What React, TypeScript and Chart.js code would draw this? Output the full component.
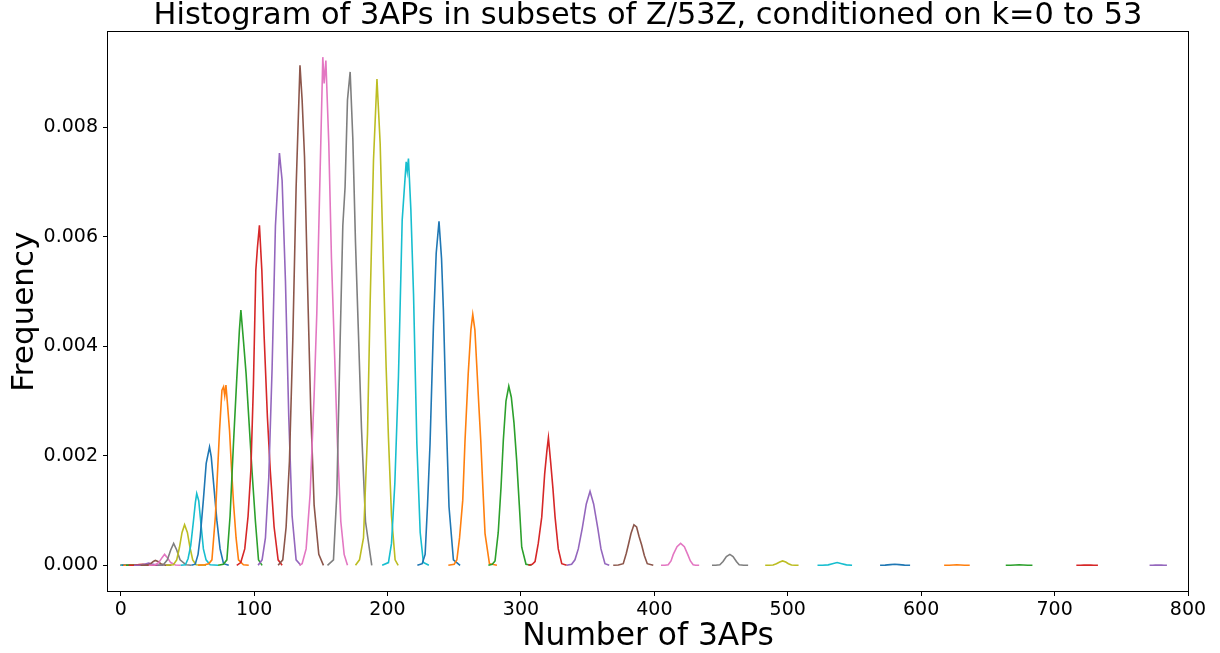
import React, { useEffect, useRef } from "react";
import { Chart, registerables } from "chart.js";

Chart.register(...registerables);

const titleText = "Histogram of 3APs in subsets of Z/53Z, conditioned on k=0 to 53";
const xAxisLabel = "Number of 3APs";
const yAxisLabel = "Frequency";
const xTickValues = [0, 100, 200, 300, 400, 500, 600, 700, 800];
const yTickValues = [0, 0.002, 0.004, 0.006, 0.008];
const palette = ["#1f77b4", "#ff7f0e", "#2ca02c", "#d62728", "#9467bd", "#8c564b", "#e377c2", "#7f7f7f", "#bcbd22", "#17becf"];

// k = subset size; bins = number of 3APs, freq = frequency
const binsK00 = [0];
const freqK00 = [0];
const binsK01 = [0];
const freqK01 = [0];
const binsK02 = [0];
const freqK02 = [0];
const binsK03 = [0, 1];
const freqK03 = [0, 0];
const binsK04 = [0, 1, 2];
const freqK04 = [0, 0.000001, 0];
const binsK05 = [0, 1, 2, 3];
const freqK05 = [0, 0.000001, 0.000001, 0];
const binsK06 = [0, 1, 2, 3, 4];
const freqK06 = [0, 0.000001, 0.000002, 0.000001, 0];
const binsK07 = [0, 1, 2, 3, 4, 5, 6];
const freqK07 = [0, 0.000001, 0.000002, 0.000002, 0.000001, 0, 0];
const binsK08 = [0, 1, 2, 3, 4, 6, 8];
const freqK08 = [0, 0.000001, 0.000002, 0.000003, 0.000002, 0.000001, 0];
const binsK09 = [0, 2, 4, 5, 6, 8, 11];
const freqK09 = [0, 0.000001, 0.000003, 0.000004, 0.000003, 0.000001, 0];
const binsK10 = [1, 4, 6, 7, 8, 10, 14];
const freqK10 = [0, 0.000002, 0.000004, 0.000005, 0.000004, 0.000002, 0];
const binsK11 = [2, 6, 8, 10, 12, 14, 18];
const freqK11 = [0, 0.000002, 0.000005, 0.000007, 0.000005, 0.000002, 0];
const binsK12 = [4, 9, 11, 13, 15, 17, 22];
const freqK12 = [0, 0.000003, 0.000007, 0.00001, 0.000007, 0.000003, 0];
const binsK13 = [6, 11, 14, 16.5, 19, 22, 28];
const freqK13 = [0, 0.000004, 0.000012, 0.00002, 0.000012, 0.000004, 0];
const binsK14 = [10, 15, 18.5, 21, 23.5, 27, 32];
const freqK14 = [0, 0.000006, 0.000025, 0.00004, 0.000025, 0.000006, 0];
const binsK15 = [15, 19.5, 22.5, 24.5, 26, 28, 30, 33.5, 38];
const freqK15 = [0, 0.000003, 0.00003, 0.00007, 0.00009, 0.00007, 0.00003, 0.000003, 0];
const binsK16 = [21, 25.5, 28.5, 31, 32.9, 35, 37.5, 41, 45];
const freqK16 = [0, 0.000005, 0.00005, 0.00014, 0.0002, 0.00014, 0.00005, 0.000005, 0];
const binsK17 = [28, 32, 35, 37.5, 39.7, 42, 44.5, 49, 53];
const freqK17 = [0, 0.00001, 0.0001, 0.00028, 0.0004, 0.00028, 0.0001, 0.00001, 0];
const binsK18 = [34, 39.5, 42, 44, 46, 47.9, 50, 52, 54, 56.5, 64];
const freqK18 = [0, 0.00001, 0.0001, 0.00032, 0.0006, 0.00074, 0.0006, 0.00032, 0.0001, 0.00001, 0];
const binsK19 = [45, 48.5, 50.5, 52.5, 54.5, 56, 57, 58.5, 60, 62, 64, 67, 73];
const freqK19 = [0, 0.00001, 0.00012, 0.00036, 0.0008, 0.00115, 0.00131, 0.00118, 0.0008, 0.0003, 0.0001, 0.00001, 0];
const binsK20 = [53, 55.9, 58, 59.6, 62, 64.1, 66.6, 67.9, 70, 72.1, 74.5, 77.1, 81];
const freqK20 = [0, 0.00002, 0.0002, 0.00052, 0.0012, 0.00186, 0.00216, 0.00198, 0.0014, 0.00082, 0.0003, 0.00003, 0];
const binsK21 = [58, 63, 66, 68.4, 71, 74.1, 75.9, 77.1, 78, 78.9, 80.2, 81.6, 83, 84.6, 86.5, 88.3, 92, 96];
const freqK21 = [0, 0.00001, 0.00003, 0.0001, 0.0009, 0.00246, 0.0032, 0.00326, 0.0031, 0.00329, 0.0029, 0.00246, 0.0018, 0.00113, 0.0005, 0.0001, 0.00001, 0];
const binsK22 = [73, 77, 79.6, 82, 84.5, 87, 89, 90.1, 92.1, 94, 96, 98.5, 101, 103.3, 106];
const freqK22 = [0, 0.00002, 0.0001, 0.0009, 0.0022, 0.0034, 0.0043, 0.00466, 0.00408, 0.0035, 0.0027, 0.0017, 0.0008, 0.0001, 0];
const binsK23 = [87, 90, 93, 95.5, 97.6, 99.5, 101.3, 102.5, 104, 105.8, 107.5, 110, 112.1, 115, 118, 121];
const freqK23 = [0, 0.00005, 0.0003, 0.0009, 0.00174, 0.0033, 0.00539, 0.0058, 0.00621, 0.00539, 0.0042, 0.0027, 0.00174, 0.0007, 0.0001, 0];
const binsK24 = [103, 106, 108.5, 111, 113.5, 116, 119, 121, 123.5, 126, 128.5, 131.5, 135];
const freqK24 = [0, 0.0001, 0.0005, 0.0016, 0.0036, 0.0062, 0.00753, 0.00703, 0.0052, 0.0027, 0.0009, 0.0001, 0];
const binsK25 = [118, 121.5, 124, 126.5, 129, 131.5, 134.4, 136, 137.8, 140, 142.5, 145, 148.5, 152];
const freqK25 = [0, 0.0001, 0.0007, 0.0019, 0.0041, 0.0069, 0.00913, 0.0085, 0.00746, 0.0052, 0.0028, 0.0011, 0.0002, 0];
const binsK26 = [134, 136, 139, 142, 145, 147, 149.5, 151.5, 152.5, 153.8, 156, 158, 160, 162.5, 165, 167.5, 170];
const freqK26 = [0, 0.00003, 0.0003, 0.0013, 0.0031, 0.0046, 0.0072, 0.00928, 0.0088, 0.00922, 0.0077, 0.0056, 0.0041, 0.0022, 0.0008, 0.0002, 0];
const binsK27 = [155, 159.5, 162, 164.5, 166.5, 168.2, 170, 172, 174, 176, 178, 180.5, 183.5, 188.2];
const freqK27 = [0, 0.0001, 0.0013, 0.0041, 0.0062, 0.00691, 0.0085, 0.00901, 0.0078, 0.0059, 0.0044, 0.0025, 0.0008, 0];
const binsK28 = [176, 179, 182, 185, 187, 189.5, 192.1, 194.5, 197, 199, 200.7, 203, 205.7, 208];
const freqK28 = [0, 0.0001, 0.0005, 0.0024, 0.0048, 0.0074, 0.00888, 0.0077, 0.0054, 0.0036, 0.00234, 0.0009, 0.0001, 0];
const binsK29 = [196, 200.7, 203, 205.5, 208.2, 211, 214, 214.8, 215.7, 217.5, 219.5, 222, 224.5, 226.9, 231];
const freqK29 = [0, 0.00005, 0.0004, 0.0015, 0.00344, 0.0063, 0.00737, 0.0072, 0.00743, 0.0065, 0.00496, 0.00222, 0.0006, 0.00005, 0];
const binsK30 = [222.4, 226, 228.2, 230, 231.9, 234.4, 236.5, 238.6, 240.5, 241.9, 244, 246.1, 249.4, 254.4];
const freqK30 = [0, 0.00003, 0.0002, 0.0011, 0.00223, 0.00435, 0.0057, 0.00628, 0.0056, 0.00466, 0.0027, 0.00107, 0.0001, 0];
const binsK31 = [245.6, 250, 252, 254, 256.4, 258.1, 260.5, 262.5, 263.9, 265.5, 266.9, 268.5, 269.9, 271.5, 273.1, 276.4, 282];
const freqK31 = [0, 0.00002, 0.0001, 0.0005, 0.00119, 0.00228, 0.0035, 0.0043, 0.00458, 0.0043, 0.00365, 0.0029, 0.00228, 0.0014, 0.00058, 0.00003, 0];
const binsK32 = [275.6, 278.5, 280.6, 283, 285.1, 286.8, 288.8, 290.9, 292.8, 294.8, 296.8, 298.8, 300.6, 303.8, 308];
const freqK32 = [0, 0.00002, 0.00008, 0.0006, 0.00143, 0.00228, 0.003, 0.00327, 0.00307, 0.0026, 0.00192, 0.0011, 0.00033, 0.00002, 0];
const binsK33 = [305.6, 308.5, 310.6, 313, 315.6, 317.8, 319.5, 320.6, 322.3, 324, 325.6, 328, 330.6, 334.3];
const freqK33 = [0, 0.00002, 0.00007, 0.0004, 0.00088, 0.00167, 0.0021, 0.00233, 0.00188, 0.0014, 0.00088, 0.0003, 0.00003, 0];
const binsK34 = [334.3, 338, 340.5, 343, 346, 349, 351.8, 354.5, 357.6, 360, 363, 366.2];
const freqK34 = [0, 0.00002, 0.0001, 0.0003, 0.00068, 0.00112, 0.00135, 0.00112, 0.00068, 0.0003, 0.00003, 0];
const binsK35 = [369.2, 373, 376.7, 379, 380.5, 382.5, 384.7, 386.7, 388.5, 390.5, 392.5, 394.7, 399.2];
const freqK35 = [0, 0.000005, 0.00003, 0.00022, 0.00037, 0.00058, 0.00074, 0.0007, 0.00053, 0.00037, 0.00018, 0.00003, 0];
const binsK36 = [405, 408, 410.4, 412.5, 414.2, 417, 419.7, 422.5, 425, 427, 429.1, 431, 433.6];
const freqK36 = [0, 0.000002, 0.00001, 0.00008, 0.0002, 0.00034, 0.0004, 0.00034, 0.0002, 0.00008, 0.00001, 0.000002, 0];
const binsK37 = [443.2, 446, 449.1, 451.5, 454, 456.6, 459, 461.5, 463.6, 467, 470.3];
const freqK37 = [0, 0.000002, 0.00001, 0.00007, 0.00016, 0.0002, 0.00016, 0.00007, 0.00001, 0.000002, 0];
const binsK38 = [483.1, 486, 489, 491.5, 494, 496.1, 498.5, 500.5, 502.8, 505.5, 508.1];
const freqK38 = [0, 0.000001, 0.000005, 0.00003, 0.00006, 0.00008, 0.00006, 0.00003, 0.000005, 0.000001, 0];
const binsK39 = [522.3, 526, 530.3, 533.5, 537, 540.5, 544, 548.2];
const freqK39 = [0, 0.000001, 0.000008, 0.00003, 0.00005, 0.00003, 0.000008, 0];
const binsK40 = [569.2, 573, 577, 580.2, 583.5, 587.5, 591.7];
const freqK40 = [0, 0.000003, 0.000012, 0.00002, 0.000012, 0.000003, 0];
const binsK41 = [617.2, 621, 624, 626.8, 629.5, 632.5, 636.4];
const freqK41 = [0, 0.000002, 0.000007, 0.00001, 0.000007, 0.000002, 0];
const binsK42 = [663.4, 667, 670.5, 673.4, 676.5, 680, 683.4];
const freqK42 = [0, 0.000001, 0.000005, 0.000008, 0.000005, 0.000001, 0];
const binsK43 = [716.3, 719.5, 722, 724.4, 727, 729.5, 732.5];
const freqK43 = [0, 0.000001, 0.000004, 0.000006, 0.000004, 0.000001, 0];
const binsK44 = [771.2, 773.5, 775.5, 777.7, 780, 782, 784.2];
const freqK44 = [0, 0.000001, 0.000003, 0.000004, 0.000003, 0.000001, 0];

const curveBins = [binsK00, binsK01, binsK02, binsK03, binsK04, binsK05, binsK06, binsK07, binsK08, binsK09,
  binsK10, binsK11, binsK12, binsK13, binsK14, binsK15, binsK16, binsK17, binsK18, binsK19,
  binsK20, binsK21, binsK22, binsK23, binsK24, binsK25, binsK26, binsK27, binsK28, binsK29,
  binsK30, binsK31, binsK32, binsK33, binsK34, binsK35, binsK36, binsK37, binsK38, binsK39,
  binsK40, binsK41, binsK42, binsK43, binsK44];
const curveFreqs = [freqK00, freqK01, freqK02, freqK03, freqK04, freqK05, freqK06, freqK07, freqK08, freqK09,
  freqK10, freqK11, freqK12, freqK13, freqK14, freqK15, freqK16, freqK17, freqK18, freqK19,
  freqK20, freqK21, freqK22, freqK23, freqK24, freqK25, freqK26, freqK27, freqK28, freqK29,
  freqK30, freqK31, freqK32, freqK33, freqK34, freqK35, freqK36, freqK37, freqK38, freqK39,
  freqK40, freqK41, freqK42, freqK43, freqK44];

const FONT = "'DejaVu Sans', 'Liberation Sans', sans-serif";

const framePlugin = {
  id: "frame",
  afterDraw(chart: any) {
    const { ctx, chartArea } = chart;
    const l = Math.round(chartArea.left) - 0.5;
    const t = Math.round(chartArea.top) - 0.5;
    const r = Math.round(chartArea.right) + 0.5;
    const b = Math.round(chartArea.bottom) + 0.5;
    ctx.save();
    ctx.strokeStyle = "#000";
    ctx.lineWidth = 1;
    ctx.strokeRect(l, t, r - l, b - t);
    ctx.restore();
  },
};

export default function App() {
  const ref = useRef<HTMLCanvasElement>(null);
  useEffect(() => {
    document.body.style.margin = "0";
    Chart.defaults.font.family = FONT;
    Chart.defaults.color = "#000";
    const datasets = curveBins.map((bins, k) => ({
      label: "k=" + k,
      data: bins.map((x, i) => ({ x, y: curveFreqs[k][i] })),
      borderColor: palette[k % 10],
      backgroundColor: palette[k % 10],
      borderWidth: 1.6,
      pointRadius: 0,
      pointHoverRadius: 0,
      tension: 0,
      fill: false,
      order: -k,
    }));
    const chart = new Chart(ref.current as HTMLCanvasElement, {
      type: "line",
      data: { datasets },
      plugins: [framePlugin],
      options: {
        animation: false,
        responsive: false,
        devicePixelRatio: 1,
        parsing: false,
        normalized: true,
        layout: { padding: { left: 0, right: 32, top: 0, bottom: 0 } },
        plugins: {
          legend: { display: false },
          tooltip: { enabled: false },
          title: {
            display: true,
            text: titleText,
            fullSize: false,
            color: "#000",
            font: { family: FONT, size: 30.4, weight: "normal", lineHeight: 1 },
            padding: { top: 1, bottom: 1 },
          },
        },
        scales: {
          x: {
            type: "linear",
            min: -9.5,
            max: 800,
            afterFit: (s: any) => { s.height = 62; },
            afterBuildTicks: (s: any) => { s.ticks = xTickValues.map((v) => ({ value: v })); },
            ticks: {
              autoSkip: false,
              maxRotation: 0,
              padding: 3,
              color: "#000",
              font: { family: FONT, size: 19 },
              callback: (v: any) => String(v),
            },
            grid: { display: true, drawOnChartArea: false, drawTicks: true, tickLength: 5, tickWidth: 1, tickColor: "#000" },
            border: { display: false },
            title: {
              display: true,
              text: xAxisLabel,
              color: "#000",
              font: { family: FONT, size: 31.3, lineHeight: 1 },
              padding: { top: 0, bottom: 0 },
            },
          },
          y: {
            type: "linear",
            min: -0.000469,
            max: 0.009732,
            afterFit: (s: any) => { s.width = 108; },
            afterBuildTicks: (s: any) => { s.ticks = yTickValues.map((v) => ({ value: v })); },
            ticks: {
              autoSkip: false,
              padding: 5,
              color: "#000",
              font: { family: FONT, size: 19 },
              callback: (v: any) => Number(v).toFixed(3),
            },
            grid: { display: true, drawOnChartArea: false, drawTicks: true, tickLength: 5, tickWidth: 1, tickColor: "#000" },
            border: { display: false },
            title: {
              display: true,
              text: yAxisLabel,
              color: "#000",
              font: { family: FONT, size: 31, lineHeight: 1 },
              padding: { top: 9, bottom: 0 },
            },
          },
        },
      },
    } as any);
    return () => chart.destroy();
  }, []);
  return (
    <div style={{ position: "fixed", left: 0, top: 0, width: 1220, height: 653, background: "#fff" }}>
      <canvas ref={ref} width={1220} height={653} style={{ display: "block", width: 1220, height: 653 }} />
    </div>
  );
}
